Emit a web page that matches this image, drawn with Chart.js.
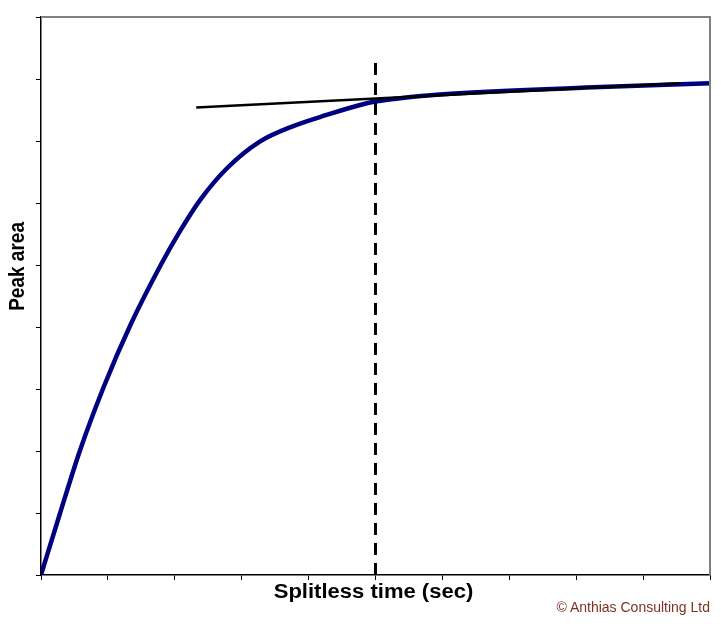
<!DOCTYPE html>
<html>
<head>
<meta charset="utf-8">
<script src="https://cdn.jsdelivr.net/npm/chart.js@4.4.1/dist/chart.umd.min.js"></script>
<style>
  html, body { margin: 0; padding: 0; background: #fff; }
  #wrap { position: relative; width: 721px; height: 627px; }
  #copy {
    position: absolute; right: 11px; top: 599px;
    font: 14px "Liberation Sans", Arial, sans-serif; color: #7f3022;
  }
</style>
</head>
<body>
<div id="wrap">
  <canvas id="grafica" width="721" height="627"></canvas>
  <div id="copy">© Anthias Consulting Ltd</div>
</div>
<script>
// Datos (unidades = divisiones de la rejilla)
const tiempo = [0, 0.28, 0.58, 0.94, 1.34, 1.80, 2.08, 2.38, 2.78, 3.27, 3.77, 4.27, 4.77, 5.02, 5.37, 5.96, 8.36, 10];
const area = [0, 0.98, 2.0, 3.04, 4.04, 5.02, 5.55, 6.05, 6.56, 6.99, 7.24, 7.42, 7.58, 7.64, 7.69, 7.75, 7.87, 7.93];
const tangenteX = [2.32, 9.55];
const tangenteY = [7.54, 7.93];
const corteX = [5, 5];
const corteY = [0, 8.31];
const tituloX = 'Splitless time (sec)';
const tituloY = 'Peak area';

const puntos = (xs, ys) => xs.map((x, i) => ({ x: x, y: ys[i] }));

// Borde gris arriba y a la derecha
const bordeGris = {
  id: 'bordeGris',
  afterDatasetsDraw(chart) {
    const { ctx, chartArea: a } = chart;
    ctx.save();
    ctx.strokeStyle = '#808080';
    ctx.lineWidth = 2;
    ctx.beginPath();
    ctx.moveTo(a.left, a.top);
    ctx.lineTo(a.right, a.top);
    ctx.lineTo(a.right, a.bottom);
    ctx.stroke();
    ctx.restore();
  }
};

// Títulos de los ejes (un poco estirados a lo ancho, como en el original)
const titulos = {
  id: 'titulos',
  afterDraw(chart) {
    const { ctx, chartArea: a } = chart;
    ctx.save();
    ctx.fillStyle = '#000';
    ctx.font = 'bold 19.5px "Liberation Sans", Arial, sans-serif';
    ctx.textAlign = 'center';
    ctx.textBaseline = 'alphabetic';
    // eje X
    ctx.save();
    ctx.translate((a.left + a.right) / 2 - 2, a.bottom + 23);
    ctx.scale(1.13, 1);
    ctx.fillText(tituloX, 0, 0);
    ctx.restore();
    // eje Y
    ctx.save();
    ctx.translate(a.left - 17, a.top + (a.bottom - a.top) * 0.447);
    ctx.scale(1.13, 1);
    ctx.rotate(-Math.PI / 2);
    ctx.font = 'bold 19px "Liberation Sans", Arial, sans-serif';
    ctx.fillText(tituloY, 0, 0);
    ctx.restore();
    ctx.restore();
  }
};

const ctx = document.getElementById('grafica').getContext('2d');
const chart = new Chart(ctx, {
  type: 'line',
  data: {
    datasets: [
      {
        data: puntos(tangenteX, tangenteY),
        borderColor: '#000',
        borderWidth: 2.5,
        pointRadius: 0
      },
      {
        data: puntos(corteX, corteY),
        borderColor: '#000',
        borderWidth: 3,
        borderDash: [12, 8],
        pointRadius: 0
      },
      {
        data: puntos(tiempo, area),
        borderColor: '#000080',
        borderWidth: 4.5,
        pointRadius: 0,
        cubicInterpolationMode: 'monotone'
      }
    ]
  },
  options: {
    responsive: false,
    animation: false,
    layout: { padding: { top: 17, right: 11, left: 0, bottom: 0 } },
    plugins: { legend: { display: false }, tooltip: { enabled: false } },
    scales: {
      x: {
        type: 'linear',
        min: 0,
        max: 10,
        afterFit: s => { s.height = 52; },
        ticks: { stepSize: 1, display: false },
        grid: { drawOnChartArea: false, drawTicks: true, tickLength: 5, color: '#000' },
        border: { color: '#000', width: 1.5 }
      },
      y: {
        type: 'linear',
        min: 0,
        max: 9,
        afterFit: s => { s.width = 41; },
        ticks: { stepSize: 1, display: false },
        grid: { drawOnChartArea: false, drawTicks: true, tickLength: 5, color: '#000' },
        border: { color: '#000', width: 1.5 }
      }
    }
  },
  plugins: [bordeGris, titulos]
});
</script>
</body>
</html>
